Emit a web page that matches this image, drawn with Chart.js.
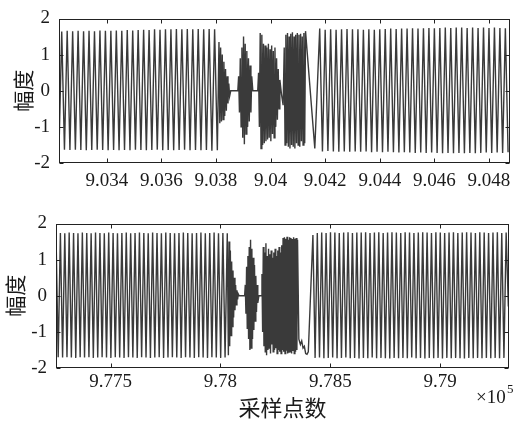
<!DOCTYPE html>
<html>
<head>
<meta charset="utf-8">
<script src="https://cdn.jsdelivr.net/npm/chart.js@4.4.1/dist/chart.umd.min.js"></script>
<style>
  body { margin: 0; background: #fff; }
  #top { position: absolute; left: 0; top: 0; }
  #bot { position: absolute; left: 0; top: 205px; }
</style>
</head>
<body>
<canvas id="top" width="522" height="205"></canvas>
<canvas id="bot" width="522" height="220"></canvas>
<script>
// ---- top panel: sample index 9.0322e5 .. 9.0489e5 ----
const topXMin = 903225, topXMax = 904877;
const topXTicks = [903400, 903600, 903800, 904000, 904200, 904400, 904600, 904800];

// steady oscillation before the disturbance (peaks every 10 samples)
const top1Start = 903225, top1Step = 10;
const top1Vals = [
  -1.62, 1.64, -1.63, 1.66, -1.64, 1.65, -1.63, 1.66, -1.64, 1.65,
  -1.65, 1.66, -1.64, 1.65, -1.63, 1.67, -1.64, 1.66, -1.65, 1.66,
  -1.64, 1.67, -1.65, 1.66, -1.64, 1.68, -1.65, 1.67, -1.63, 1.68,
  -1.64, 1.69, -1.65, 1.68, -1.64, 1.70, -1.63, 1.69, -1.65, 1.70,
  -1.64, 1.70, -1.65, 1.71, -1.64, 1.70, -1.63, 1.71, -1.65, 1.70,
  -1.64, 1.71, -1.65, 1.70, -1.64, 1.71, -1.66, 1.70, -1.65
];

// disturbed part
const topMidX = [
  903811, 903814, 903817, 903820, 903823, 903826, 903829, 903832, 903835, 903838, 903841, 903844, 903847, 903850,
  903854, 903880,
  903883, 903886, 903889, 903892, 903895, 903898, 903901, 903904, 903907, 903910, 903913, 903916, 903919, 903922, 903925, 903928, 903931,
  903935, 903953,
  903956, 903959, 903962, 903965, 903968, 903971, 903974, 903977, 903980, 903983, 903986, 903989, 903992, 903995, 903998,
  904001, 904004, 904007, 904010, 904013, 904016, 904019, 904022, 904025, 904028, 904031, 904034,
  904040, 904046,
  904050, 904053, 904056, 904059, 904062, 904065, 904068, 904071, 904074, 904077, 904080, 904083, 904086, 904089,
  904092, 904095, 904098, 904101, 904104, 904107, 904110, 904113, 904116, 904119, 904122, 904125, 904128,
  904162, 904180
];
const topMidY = [
  1.35, -0.9, 1.2, -0.85, 1.0, -0.8, 0.8, -0.7, 0.6, -0.55, 0.4, -0.35, 0.2, -0.15,
  0, 0,
  0.4, -0.6, 0.9, -1.0, 1.2, -1.3, 1.5, -1.48, 1.3, -1.2, 1.1, -1.0, 0.9, -0.85, 0.7, -0.6, 0.4,
  0, 0,
  0.5, -1.0, 1.6, -1.6, 1.55, -1.5, 1.3, -1.45, 1.25, -1.4, 1.2, -1.35, 1.3, -1.3, 1.15,
  -1.4, 1.25, -1.2, 1.1, -1.3, 1.2, -1.0, 0.9, -0.8, 0.6, -0.5, 0.3,
  -0.1, -0.4,
  1.2, -1.5, 1.55, -1.45, 1.6, -1.55, 1.5, -1.6, 1.58, -1.5, 1.62, -1.55, 1.5, -1.6,
  1.55, -1.45, 1.6, -1.5, 1.55, -1.55, 1.58, -1.4, 1.5, -1.5, 1.6, -1.45, 1.65,
  -1.6, 1.72
];

// steady oscillation after the disturbance
const top2Start = 904190, top2Step = 10;
const top2Vals = [
  -1.68, 1.69, -1.67, 1.70, -1.68, 1.69, -1.69, 1.70, -1.68, 1.71,
  -1.69, 1.70, -1.68, 1.70, -1.69, 1.69, -1.68, 1.70, -1.70, 1.69,
  -1.69, 1.70, -1.70, 1.71, -1.69, 1.72, -1.70, 1.71, -1.71, 1.72,
  -1.70, 1.72, -1.71, 1.73, -1.72, 1.72, -1.71, 1.73, -1.72, 1.74,
  -1.71, 1.73, -1.72, 1.74, -1.73, 1.75, -1.72, 1.74, -1.73, 1.75,
  -1.72, 1.75, -1.73, 1.74, -1.72, 1.75, -1.73, 1.74, -1.72, 1.75,
  -1.71, 1.74, -1.72, 1.75, -1.71, 1.74, -1.72, 1.73, -1.70
];

// ---- bottom panel: sample index 9.7725e5 .. 9.7931e5 ----
const botXMin = 977251, botXMax = 979314;
const botXTicks = [977500, 978000, 978500, 979000];

const bot1Start = 977251, bot1Step = 10;
const bot1Vals = [
  1.72, -1.70, 1.74, -1.71, 1.73, -1.70, 1.75, -1.71, 1.74, -1.72,
  1.73, -1.70, 1.75, -1.71, 1.74, -1.70, 1.73, -1.72, 1.75, -1.71,
  1.74, -1.70, 1.73, -1.71, 1.75, -1.72, 1.74, -1.70, 1.73, -1.71,
  1.74, -1.72, 1.75, -1.70, 1.73, -1.71, 1.74, -1.72, 1.75, -1.70,
  1.74, -1.71, 1.73, -1.72, 1.75, -1.71, 1.74, -1.70, 1.73, -1.72,
  1.75, -1.71, 1.74, -1.70, 1.73, -1.71, 1.74, -1.72, 1.75, -1.70,
  1.74, -1.71, 1.73, -1.72, 1.74, -1.70, 1.75, -1.71, 1.73, -1.72,
  1.74, -1.70, 1.75, -1.71, 1.73, -1.72, 1.74, -1.71, 1.73
];

const botMidX = [
  978036, 978039, 978042, 978045, 978048, 978051, 978054, 978057, 978060, 978063, 978066, 978069, 978072, 978075, 978078, 978081,
  978085, 978110,
  978113, 978116, 978119, 978122, 978125, 978128, 978131, 978134, 978137, 978140,
  978143, 978146, 978149, 978152, 978155, 978158, 978161, 978164, 978167, 978170,
  978175, 978186,
  978189, 978192, 978195, 978198, 978201, 978204, 978207, 978210, 978213, 978216, 978219, 978222, 978225, 978228, 978231, 978234,
  978237, 978240, 978243, 978246, 978249, 978252, 978255, 978258, 978261, 978264, 978267, 978270, 978273, 978276, 978279,
  978282, 978285, 978288, 978291, 978294, 978297, 978300, 978303, 978306, 978309, 978312, 978315,
  978318, 978321, 978324, 978327, 978330, 978333, 978336, 978339, 978342, 978345, 978348, 978351,
  978357, 978364, 978370, 978376, 978382, 978388, 978394, 978400,
  978421
];
const botMidY = [
  -1.65, 1.5, -1.4, 1.25, -1.1, 0.95, -0.85, 0.7, -0.6, 0.5, -0.4, 0.3, -0.25, 0.15, -0.1, 0.05,
  0, 0,
  0.3, -0.5, 0.8, -0.9, 1.1, -1.2, 1.35, -1.5, 1.55, -1.45,
  1.3, -1.2, 1.05, -0.95, 0.85, -0.7, 0.55, -0.45, 0.3, -0.2,
  0, 0,
  0.6, -1.0, 1.35, -1.4, 1.2, -1.55, 1.45, -1.65, 1.1, -1.5, 1.3, -1.45, 1.15, -1.6, 1.25, -1.35,
  1.05, -1.55, 1.2, -1.5, 1.3, -1.45, 1.1, -1.6, 1.25, -1.5, 1.35, -1.55, 1.2, -1.6, 1.4,
  -1.5, 1.6, -1.55, 1.62, -1.6, 1.58, -1.52, 1.63, -1.6, 1.55, -1.58, 1.62,
  -1.55, 1.6, -1.6, 1.57, -1.53, 1.62, -1.6, 1.58, -1.55, 1.6, -1.5, 1.55,
  -1.2, -1.35, -1.25, -1.45, -1.4, -1.6, -1.62, -1.55,
  1.68
];

const bot2Start = 978431, bot2Step = 10;
const bot2Vals = [
  -1.72, 1.74, -1.71, 1.75, -1.73, 1.74, -1.72, 1.76, -1.71, 1.75,
  -1.73, 1.74, -1.72, 1.75, -1.71, 1.76, -1.73, 1.74, -1.72, 1.75,
  -1.74, 1.75, -1.72, 1.76, -1.73, 1.74, -1.71, 1.75, -1.73, 1.76,
  -1.72, 1.74, -1.73, 1.75, -1.74, 1.76, -1.72, 1.75, -1.73, 1.74,
  -1.72, 1.76, -1.73, 1.75, -1.71, 1.74, -1.73, 1.75, -1.72, 1.76,
  -1.74, 1.75, -1.72, 1.74, -1.73, 1.76, -1.72, 1.75, -1.74, 1.74,
  -1.72, 1.75, -1.73, 1.76, -1.72, 1.74, -1.73, 1.75, -1.74, 1.76,
  -1.72, 1.75, -1.73, 1.74, -1.72, 1.76, -1.73, 1.75, -1.72, 1.74,
  -1.73, 1.75, -1.72, 1.76, -1.73, 1.74, -1.72, 1.75, -0.3
];

const yTicks = [-2, -1, 0, 1, 2];
const yTitle = '幅度';
const xTitle = '采样点数';

const serif = "'Liberation Serif', 'Times New Roman', serif";
const cjk = "'Noto Sans CJK SC', sans-serif";
const ink = '#1a1a1a';

function run(start, step, vals) {
  return vals.map((v, i) => ({ x: start + i * step, y: v }));
}
function pts(xs, ys) {
  return xs.map((x, i) => ({ x: x, y: ys[i] }));
}

// matlab style box with inward ticks
const frame = {
  id: 'frame',
  afterDraw(chart) {
    const ctx = chart.ctx, a = chart.chartArea;
    const xs = chart.scales.x, ys = chart.scales.y;
    const L = Math.round(a.left) + 0.5, R = Math.round(a.right) - 0.5;
    const T = Math.round(a.top) + 0.5, B = Math.round(a.bottom) - 0.5;
    ctx.save();
    ctx.strokeStyle = '#222';
    ctx.lineWidth = 1;
    ctx.strokeRect(L, T, R - L, B - T);
    ctx.beginPath();
    xs.ticks.forEach(t => {
      const px = Math.round(xs.getPixelForValue(t.value)) + 0.5;
      ctx.moveTo(px, B); ctx.lineTo(px, B - 4);
      ctx.moveTo(px, T); ctx.lineTo(px, T + 4);
    });
    ys.ticks.forEach(t => {
      const py = Math.round(ys.getPixelForValue(t.value)) + 0.5;
      ctx.moveTo(L, py); ctx.lineTo(L + 4, py);
      ctx.moveTo(R, py); ctx.lineTo(R - 4, py);
    });
    ctx.stroke();
    ctx.restore();
  }
};

const expo = {
  id: 'expo',
  afterDraw(chart) {
    const ctx = chart.ctx;
    ctx.save();
    ctx.fillStyle = ink;
    ctx.textBaseline = 'alphabetic';
    ctx.font = '19px ' + serif;
    ctx.fillText('×10', 476, 198);
    ctx.font = '13px ' + serif;
    ctx.fillText('5', 507, 188);
    ctx.restore();
  }
};

function makeChart(id, data, c) {
  const xTicks = c.xTicks;
  return new Chart(document.getElementById(id), {
    type: 'line',
    data: {
      datasets: [{
        data: data,
        borderColor: '#3a3a3a',
        borderWidth: 1.4,
        pointRadius: 0,
        tension: 0,
        fill: false
      }]
    },
    options: {
      responsive: false,
      animation: false,
      events: [],
      layout: { padding: { top: c.padTop, right: c.padRight, left: 0, bottom: 0 } },
      plugins: { legend: { display: false }, tooltip: { enabled: false } },
      scales: {
        x: {
          type: 'linear',
          min: c.xMin,
          max: c.xMax,
          afterBuildTicks: s => { s.ticks = xTicks.map(v => ({ value: v })); },
          afterFit: s => { s.height = c.xHeight; },
          grid: { display: false, drawTicks: false },
          border: { display: false },
          ticks: {
            padding: c.xPad,
            maxRotation: 0,
            autoSkip: false,
            color: ink,
            font: { family: serif, size: 19 },
            callback: v => String(+(v / 1e5).toFixed(4))
          },
          title: {
            display: !!c.xTitle,
            text: c.xTitle || '',
            color: ink,
            font: { family: cjk, size: 22 },
            padding: { top: 0, bottom: 4 }
          }
        },
        y: {
          min: -2,
          max: 2,
          afterBuildTicks: s => { s.ticks = yTicks.map(v => ({ value: v })); },
          afterFit: s => { s.width = c.yWidth; },
          grid: { display: false, drawTicks: false },
          border: { display: false },
          ticks: {
            padding: 9,
            color: ink,
            font: { family: serif, size: 19, lineHeight: 1 }
          },
          title: {
            display: true,
            text: yTitle,
            color: ink,
            font: { family: cjk, size: 21 },
            padding: { top: c.yTitlePad, bottom: 0 }
          }
        }
      }
    },
    plugins: c.plugins
  });
}

const topData = run(top1Start, top1Step, top1Vals)
  .concat(pts(topMidX, topMidY), run(top2Start, top2Step, top2Vals));
const botData = run(bot1Start, bot1Step, bot1Vals)
  .concat(pts(botMidX, botMidY), run(bot2Start, bot2Step, bot2Vals));

makeChart('top', topData, {
  xMin: topXMin, xMax: topXMax, xTicks: topXTicks,
  padTop: 10, padRight: 12, xHeight: 42, yWidth: 59, xPad: 7, yTitlePad: 10,
  plugins: [frame]
});

makeChart('bot', botData, {
  xMin: botXMin, xMax: botXMax, xTicks: botXTicks,
  padTop: 12, padRight: 13, xHeight: 57, yWidth: 56, xPad: 3, yTitlePad: 2,
  xTitle: xTitle,
  plugins: [frame, expo]
});
</script>
</body>
</html>
